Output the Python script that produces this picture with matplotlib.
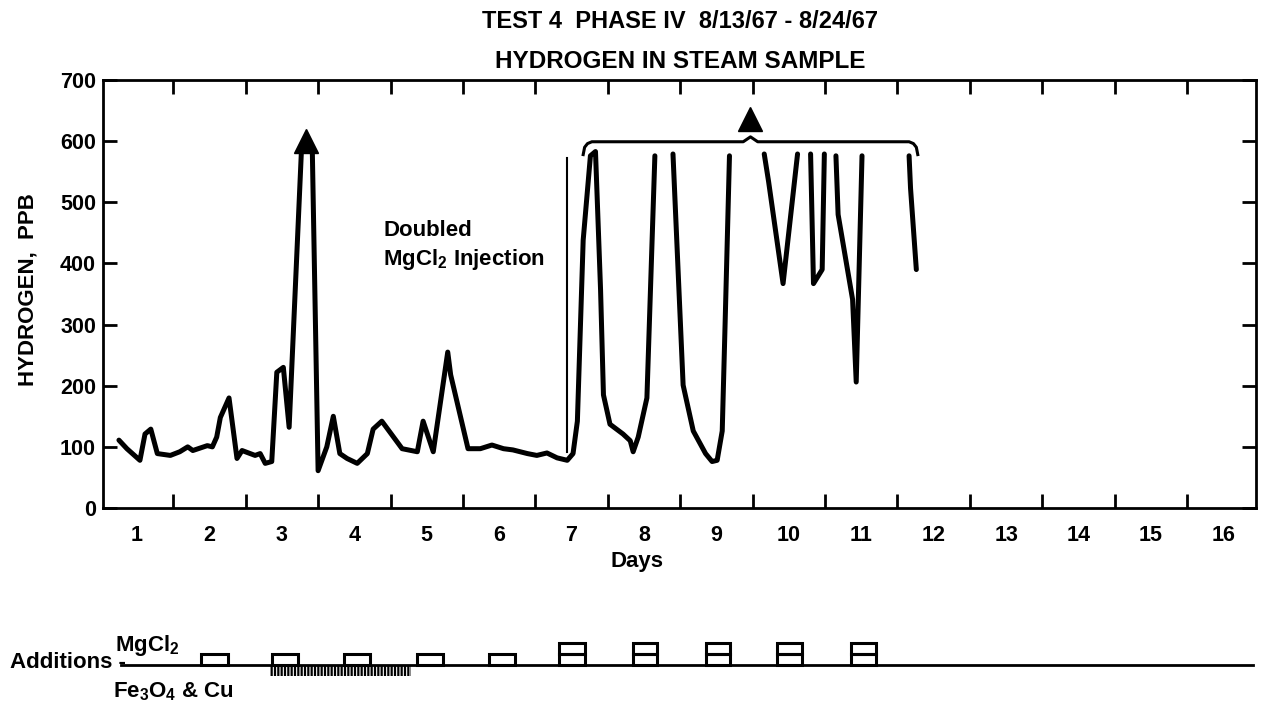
import numpy as np
import matplotlib
matplotlib.use("Agg")
import matplotlib.pyplot as plt

plt.rcParams['font.family'] = ['Liberation Sans', 'DejaVu Sans']
plt.rcParams['font.weight'] = 'bold'
plt.rcParams['mathtext.fontset'] = 'custom'
plt.rcParams['mathtext.rm'] = 'Liberation Sans:bold'
plt.rcParams['mathtext.it'] = 'Liberation Sans:bold'
plt.rcParams['mathtext.bf'] = 'Liberation Sans:bold'
plt.rcParams['hatch.linewidth'] = 1.6

# hydrogen trace, NaN = pen lifted (off scale above ~580 ppb)
days = [0.75, 0.86, 1.04, 1.11, 1.19, 1.28, 1.46, 1.59, 1.70, 1.77, 1.97, 2.04,
        2.10, 2.15, 2.27, 2.38, 2.45, 2.63, 2.70, 2.77, 2.86, 2.93, 3.02, 3.10,
        3.27, np.nan,
        3.42, 3.50, 3.62, 3.71, 3.80, 3.90, 4.04, 4.18, 4.26, 4.38, 4.66, 4.87,
        4.95, 5.09, 5.29, 5.33, 5.57, 5.74, 5.90, 6.06, 6.19, 6.39, 6.52, 6.66,
        6.80, 6.94, 7.02, 7.08, 7.16, 7.26, 7.33, 7.40, 7.44, 7.53, 7.71, 7.81,
        7.85, 7.92, 8.04, 8.15, np.nan,
        8.40, 8.54, 8.68, 8.85, 8.94, 9.01, 9.08, 9.12, 9.18, np.nan,
        9.66, 9.72, 9.92, 10.12, np.nan,
        10.30, 10.34, 10.46, 10.49, np.nan,
        10.65, 10.68, 10.88, 10.93, 11.01, np.nan,
        11.66, 11.68, 11.76]
ppb = [111, 97, 78, 121, 129, 89, 86, 92, 100, 94, 102, 100,
       116, 148, 180, 81, 94, 86, 89, 73, 76, 222, 230, 132,
       585, np.nan,
       585, 61, 100, 150, 89, 81, 73, 89, 129, 142, 97, 92,
       142, 92, 255, 218, 97, 97, 103, 97, 95, 89, 86, 90,
       82, 78, 89, 142, 438, 576, 583, 357, 185, 137, 121, 110,
       92, 116, 180, 576, np.nan,
       579, 201, 126, 89, 76, 78, 126, 303, 576, np.nan,
       579, 534, 367, 579, np.nan,
       579, 367, 390, 579, np.nan,
       576, 480, 341, 206, 576, np.nan,
       576, 523, 390]

injection_day = 6.94
injection_range = (92, 572)

# additions: MgCl2 boxes (start, end, count) and Fe3O4 & Cu span
mg_start = [1.88, 2.86, 3.86, 4.87, 5.86, 6.83, 7.85, 8.85, 9.84, 10.86]
mg_end = [2.25, 3.22, 4.22, 5.22, 6.22, 7.19, 8.18, 9.19, 10.18, 11.21]
mg_count = [1, 1, 1, 1, 1, 2, 2, 2, 2, 2]
fe_cu_span = (2.84, 4.78)

W, H = 1261, 714
fig = plt.figure(figsize=(W / 100, H / 100), dpi=100)
L, R, T, B = 103, 1256, 80, 508
ax = fig.add_axes([L / W, 1 - B / H, (R - L) / W, (B - T) / H])

ax.plot(days, ppb, color='black', lw=3.6, solid_capstyle='round', solid_joinstyle='round')
ax.plot([injection_day, injection_day], injection_range, color='black', lw=1.5)

# off-scale arrows and brace
ax.plot([3.33], [600], marker='^', ms=17, color='black')
ax.plot([9.47], [637], marker='^', ms=17, color='black')
bx = [7.16, 7.18, 7.22, 7.28, 9.37, 9.47, 9.57, 11.66, 11.72, 11.76, 11.78]
by = [578, 590, 596, 599, 599, 607, 599, 599, 596, 590, 578]
ax.plot(bx, by, color='black', lw=2.2, solid_joinstyle='round')

ax.text(4.40, 454, "Doubled", fontsize=16, va='center', ha='left')
ax.text(4.40, 407, "MgCl$_2$ Injection", fontsize=16, va='center', ha='left')

ax.set_xlim(0.53, 16.45)
ax.set_ylim(0, 700)
ax.set_yticks(range(0, 701, 100))
ax.set_xticks(range(1, 17))
ax.set_xticks(np.arange(1.5, 16, 1), minor=True)
ax.tick_params(axis='y', direction='in', length=10, width=2, right=True,
               labelsize=15.5, pad=5)
ax.tick_params(axis='x', which='major', length=0, labelsize=15.5, pad=12)
ax.tick_params(axis='x', which='minor', direction='in', length=10, width=2,
               top=True, bottom=True)
for s in ax.spines.values():
    s.set_linewidth(2)

fig.text(28 / W, 1 - 290 / H, "HYDROGEN,  PPB", rotation=90, fontsize=16,
         ha='center', va='center')
fig.text(637 / W, 1 - 562 / H, "Days", fontsize=16, ha='center', va='center')
fig.text(680 / W, 1 - 22 / H, "TEST 4  PHASE IV  8/13/67 - 8/24/67", fontsize=17,
         ha='center', va='center')
fig.text(680 / W, 1 - 61 / H, "HYDROGEN IN STEAM SAMPLE", fontsize=17.5,
         ha='center', va='center')

# additions strip
ax2 = fig.add_axes([L / W, 1 - 695 / H, (R - L) / W, 75 / H])
ax2.set_xlim(ax.get_xlim())
ax2.set_ylim(-2.7, 4.1)
ax2.axis('off')
ax2.axhline(0, xmin=0.016, xmax=0.997, color='black', lw=2)
for s, e, n in zip(mg_start, mg_end, mg_count):
    for k in range(n):
        ax2.bar(s, 1, width=e - s, bottom=k, align='edge', fill=False,
                edgecolor='black', lw=2.2)
ax2.bar(fe_cu_span[0], -0.95, width=fe_cu_span[1] - fe_cu_span[0], align='edge',
        color='none', edgecolor='black', hatch='|||||', lw=0)

fig.text(10 / W, 1 - 663 / H, "Additions -", fontsize=16, ha='left', va='center')
fig.text(115 / W, 1 - 645 / H, "MgCl$_2$", fontsize=16, ha='left', va='center')
fig.text(113 / W, 1 - 692 / H, "Fe$_3$O$_4$ & Cu", fontsize=16, ha='left', va='center')

fig.savefig("out.png", dpi=100)
